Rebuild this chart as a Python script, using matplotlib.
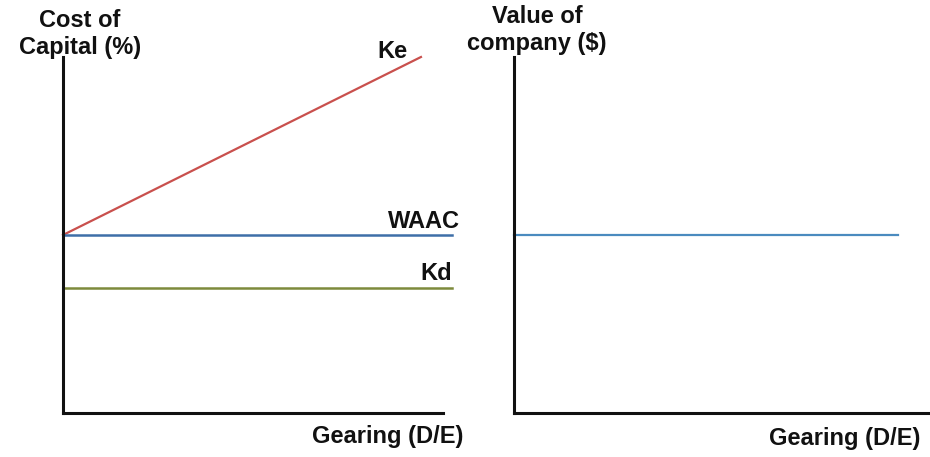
#!/usr/bin/env python3
import matplotlib.pyplot as plt

plt.rcParams['font.family'] = ['Liberation Sans', 'DejaVu Sans']

# traditional-view style curves (axes 0..10)
gearing = [0.0, 9.42]
ke = [5.0, 10.0]
gearing_flat = [0.0, 10.24]
waac = [5.0, 5.0]
kd = [3.5, 3.5]
value_x = [0.0, 9.23]
value_y = [5.0, 5.0]

W, H = 930, 457
fig = plt.figure(figsize=(9.3, 4.57), dpi=100)

def px_axes(x0, x1, ytop, ybot):
    return fig.add_axes([x0 / W, (H - ybot) / H, (x1 - x0) / W, (ybot - ytop) / H])

def style(ax):
    ax.set_xlim(0, 10)
    ax.set_ylim(0, 10)
    for s in ['top', 'right']:
        ax.spines[s].set_visible(False)
    for s in ['left', 'bottom']:
        ax.spines[s].set_linewidth(2.2)
        ax.spines[s].set_color('#111111')
    ax.set_xticks([])
    ax.set_yticks([])
    ax.patch.set_alpha(0)

# left: cost of capital
ax1 = px_axes(63, 443, 57, 413)
style(ax1)
ax1.plot(gearing, ke, color='#c9504d', lw=1.6, clip_on=False)
ax1.plot(gearing_flat, waac, color='#3e6fa8', lw=1.8, clip_on=False)
ax1.plot(gearing_flat, kd, color='#7d8a3c', lw=1.8, clip_on=False)

tkw = dict(fontsize=17, fontweight='bold', color='#111111')
fig.text(80 / W, 1 - 34 / H, 'Cost of\nCapital (%)', ha='center', va='center',
         linespacing=1.2, **tkw)
fig.text(392 / W, 1 - 52 / H, 'Ke', ha='center', va='center', **tkw)
fig.text(460 / W, 1 - 222 / H, 'WAAC', ha='right', va='center', **tkw)
fig.text(436 / W, 1 - 273 / H, 'Kd', ha='center', va='center', **tkw)
fig.text(388 / W, 1 - 436 / H, 'Gearing (D/E)', ha='center', va='center', **tkw)

# right: value of company
ax2 = px_axes(514, 930, 57, 413)
style(ax2)
ax2.plot(value_x, value_y, color='#4a8bbf', lw=1.6, clip_on=False)
fig.text(537 / W, 1 - 30 / H, 'Value of\ncompany ($)', ha='center', va='center',
         linespacing=1.2, **tkw)
fig.text(845 / W, 1 - 439 / H, 'Gearing (D/E)', ha='center', va='center', **tkw)

fig.savefig('out.png', dpi=100)
